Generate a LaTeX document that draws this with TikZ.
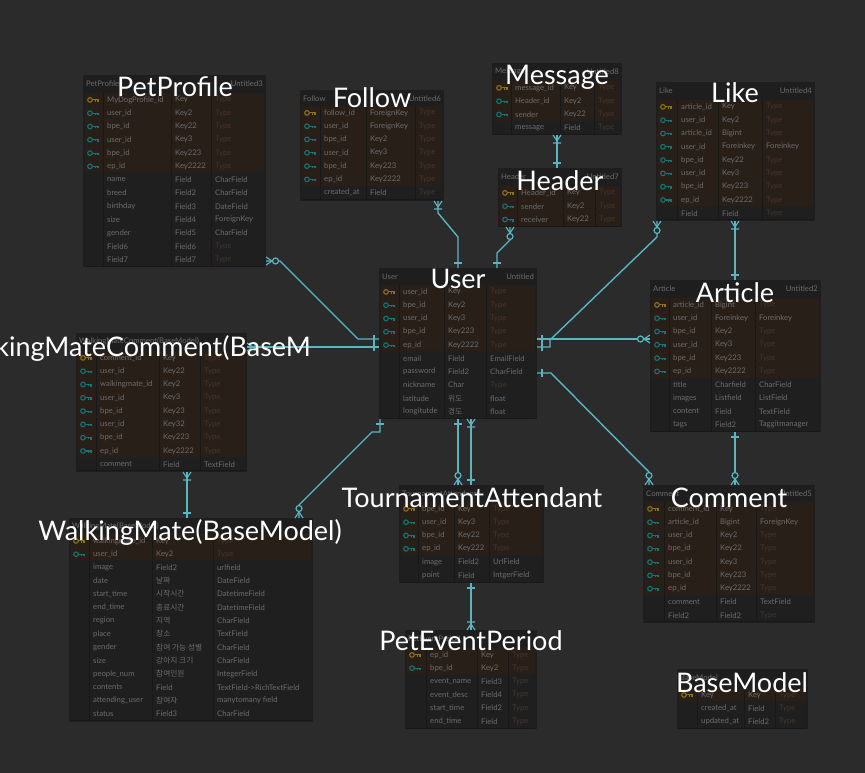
\documentclass[tikz,border=0pt]{standalone}
\usepackage{fontspec}
\setmainfont{Lato}
\newfontfamily\titlefont{Lato}
\newfontfamily\kr{Noto Sans CJK KR}
\usetikzlibrary{calc}

\definecolor{bgc}{RGB}{43,43,43}
\definecolor{tabbg}{RGB}{30,30,30}
\definecolor{keyrow}{RGB}{41,31,25}
\definecolor{plainrow}{RGB}{31,31,31}
\definecolor{gridc}{RGB}{24,24,24}
\definecolor{cellc}{RGB}{108,108,108}
\definecolor{typec}{RGB}{70,53,42}
\definecolor{pkc}{RGB}{140,114,22}
\definecolor{fkc}{RGB}{22,115,120}
\definecolor{connc}{RGB}{88,182,194}
\colorlet{rowpk}{keyrow}
\colorlet{rowfk}{keyrow}
\colorlet{rowno}{plainrow}
\colorlet{icopk}{pkc}
\colorlet{icofk}{fkc}
\colorlet{icono}{plainrow}

\newcommand{\tp}{\textcolor{typec}{Type}}

\tikzset{
  tbox/.style={fill=tabbg, draw=none, inner sep=0pt, outer sep=0pt},
  cell/.style={font=\fontsize{7.7}{8}\selectfont, text=cellc, inner sep=0pt, anchor=west},
  hdrtxt/.style={font=\fontsize{7.7}{8}\selectfont, text=cellc, inner sep=0pt},
  titlelbl/.style={font=\titlefont\fontsize{27}{29}\selectfont, text=white, inner sep=0pt, anchor=base},
  conn/.style={draw=connc, line width=1.4pt},
  endmark/.style={draw=connc, line width=1.2pt},
  gridl/.style={draw=gridc, line width=0.5pt},
}

% table frame: name, x0, x1, x2, x3, x4, ytop, yfirst, ybottom
\newcommand{\tbl}[9]{%
  \gdef\tn{#1}\gdef\xa{#2}\gdef\xb{#3}\gdef\xc{#4}\gdef\xd{#5}\gdef\xe{#6}\gdef\yt{#7}\gdef\yf{#8}%
  \node[tbox, anchor=north west, minimum width={#6-#2}, minimum height={#9-#7}] (#1) at (#2,#7) {};}
\newcommand{\hdr}[2]{%
  \node[hdrtxt, anchor=west] (\tn-hl) at (\xa+3,\yt+8.5) {#1};
  \node[hdrtxt, anchor=east] (\tn-hr) at (\xe-3,\yt+8.5) {#2};}
\newcommand{\rows}[1]{%
  \foreach \ic/\fa/\fb/\fc [count=\i from 0] in {#1}{%
    \pgfmathsetmacro\ya{\yf+\i*13.3}%
    \pgfmathsetmacro\yb{\ya+13.3}%
    \pgfmathsetmacro\ym{\ya+6.9}%
    \fill[fill=row\ic] (\xa+2,\ya-0.3) rectangle (\xe-2,\yb+0.3);
    \draw[gridl] (\xa+2,\yb) -- (\xe-2,\yb) (\xb,\ya) -- (\xb,\yb) (\xc,\ya) -- (\xc,\yb) (\xd,\ya) -- (\xd,\yb);
    \draw[draw=ico\ic, line width=1.1pt] (\xa+7,\ym) circle (2.3);
    \draw[draw=ico\ic, line width=1.1pt] (\xa+9.3,\ym) -- (\xa+15,\ym) -- (\xa+15,\ym+2) (\xa+12.8,\ym) -- (\xa+12.8,\ym+1.7);
    \node[cell] (\tn-\i-a) at (\xb+4,\ym) {\fa};
    \node[cell] (\tn-\i-b) at (\xc+4,\ym) {\fb};
    \node[cell] (\tn-\i-c) at (\xd+4,\ym) {\fc};
  }}

% ER end marks: point, direction (away from the table)
\newcommand{\mone}[2]{\draw[endmark, shift={#1}, rotate=#2] (5,-4) -- (5,4);}
\newcommand{\mmany}[2]{\draw[endmark, shift={#1}, rotate=#2] (0,-4) -- (6,0) -- (0,4) (8,-4) -- (8,4);}
\newcommand{\mzmany}[2]{\draw[endmark, shift={#1}, rotate=#2] (0,-4) -- (6,0) -- (0,4);
  \draw[endmark, fill=bgc, shift={#1}, rotate=#2] (9.5,0) circle (3);}

\begin{document}
\begin{tikzpicture}[x=1pt, y=-1pt]
\useasboundingbox (0,0) rectangle (865,773);
\fill[bgc] (0,0) rectangle (865,773);

% ---------- tables ----------
\tbl{petprofile}{83}{103}{171}{211}{266}{75}{93}{267}
\hdr{PetProfile}{Untitled3}
\rows{pk/MyDogProfile\_id/Key/\tp, fk/user\_id/Key2/\tp, fk/bpe\_id/Key22/\tp, fk/user\_id/Key3/\tp, fk/bpe\_id/Key223/\tp, fk/ep\_id/Key2222/\tp, no/name/Field/CharField, no/breed/Field2/CharField, no/birthday/Field3/DateField, no/size/Field4/ForeignKey, no/gender/Field5/CharField, no/Field6/Field6/\tp, no/Field7/Field7/\tp}

\tbl{follow}{300}{320}{366}{415}{444}{90}{106}{201}
\hdr{Follow}{Untitled6}
\rows{pk/follow\_id/ForeignKey/\tp, fk/user\_id/ForeignKey/\tp, fk/bpe\_id/Key2/\tp, fk/user\_id/Key3/\tp, fk/bpe\_id/Key223/\tp, fk/ep\_id/Key2222/\tp, no/created\_at/Field/\tp}

\tbl{message}{492}{511}{560}{594}{622}{63}{81}{135}
\hdr{Message}{Untitled8}
\rows{pk/message\_id/Key/\tp, fk/Header\_id/Key2/\tp, fk/sender/Key22/\tp, no/message/Field/\tp}

\tbl{header}{498}{517}{563}{595}{622}{168}{186}{227}
\hdr{Header}{Untitled7}
\rows{pk/Header\_id/Key/\tp, fk/sender/Key2/\tp, fk/receiver/Key22/\tp}

\tbl{like}{656}{677}{718}{762}{815}{82}{100}{221}
\hdr{Like}{Untitled4}
\rows{pk/article\_id/Key/\tp, fk/user\_id/Key2/\tp, fk/article\_id/Bigint/\tp, fk/user\_id/Foreinkey/Foreinkey, fk/bpe\_id/Key22/\tp, fk/user\_id/Key3/\tp, fk/bpe\_id/Key223/\tp, fk/ep\_id/Key2222/\tp, no/Field/Field/\tp}

\tbl{user}{379}{399}{444}{486}{537}{268}{285}{419}
\hdr{User}{Untitled}
\rows{pk/user\_id/Key/\tp, fk/bpe\_id/Key2/\tp, fk/user\_id/Key3/\tp, fk/bpe\_id/Key223/\tp, fk/ep\_id/Key2222/\tp, no/email/Field/EmailField, no/password/Field2/CharField, no/nickname/Char/\tp, no/latitude/{\kr 위도}/float, no/longitutde/{\kr 경도}/float}

\tbl{article}{650}{669}{711}{755}{821}{280}{298}{432}
\hdr{Article}{Untitled2}
\rows{pk/article\_id/Bigint/\tp, fk/user\_id/Foreinkey/Foreinkey, fk/bpe\_id/Key2/\tp, fk/user\_id/Key3/\tp, fk/bpe\_id/Key223/\tp, fk/ep\_id/Key2222/\tp, no/title/Charfield/CharField, no/images/Listfield/ListField, no/content/Field/TextField, no/tags/Field2/Taggitmanager}

\tbl{comment}{643}{664}{716}{756}{815}{485}{502}{623}
\hdr{Comment}{Untitled5}
\rows{pk/comment\_id/Key/\tp, fk/article\_id/Bigint/ForeignKey, fk/user\_id/Key2/\tp, fk/bpe\_id/Key22/\tp, fk/user\_id/Key3/\tp, fk/bpe\_id/Key223/\tp, fk/ep\_id/Key2222/\tp, no/comment/Field/TextField, no/Field2/Field2/\tp}

\tbl{ta}{399}{418}{454}{489}{544}{485}{502}{583}
\hdr{TournamentAttendant}{}
\rows{pk/bpe\_id/Key/\tp, fk/user\_id/Key3/\tp, fk/bpe\_id/Key22/\tp, fk/ep\_id/Key222/\tp, no/image/Field2/UrlField, no/point/Field/IntgerField}

\tbl{pep}{405}{426}{477}{508}{537}{630}{648}{729}
\hdr{PetEventPeriod}{}
\rows{pk/ep\_id/Key/\tp, fk/bpe\_id/Key2/\tp, no/event\_name/Field3/\tp, no/event\_desc/Field4/\tp, no/start\_time/Field2/\tp, no/end\_time/Field/\tp}

\tbl{basemodel}{677}{697}{744}{775}{808}{669}{688}{729}
\hdr{BaseModel}{}
\rows{pk/Key/Key/\tp, no/created\_at/Field/\tp, no/updated\_at/Field2/\tp}

\tbl{wmc}{76}{96}{159}{200}{247}{333}{351}{472}
\hdr{WalkingMateComment(BaseModel)}{}
\rows{pk/comment\_id/Key/\tp, fk/user\_id/Key22/\tp, fk/walkingmate\_id/Key2/\tp, fk/user\_id/Key3/\tp, fk/bpe\_id/Key23/\tp, fk/user\_id/Key32/\tp, fk/bpe\_id/Key223/\tp, fk/ep\_id/Key2222/\tp, no/comment/Field/TextField}

\tbl{wm}{69}{89}{152}{213}{313}{518}{534}{722}
\hdr{WalkingMate(BaseModel)}{}
\rows{pk/walkingmate\_id/Key/\tp, fk/user\_id/Key2/\tp, no/image/Field2/urlfield, no/date/{\kr 날짜}/DateField, no/start\_time/{\kr 시작시간}/DatetimeField, no/end\_time/{\kr 종료시간}/DatetimeField, no/region/{\kr 지역}/CharField, no/place/{\kr 장소}/TextField, no/gender/{\kr 참여 가능 성별}/CharField, no/size/{\kr 강아지 크기}/CharField, no/people\_num/{\kr 참여인원}/IntegerField, no/contents/Field/TextField->RichTextField, no/attending\_user/{\kr 참여자}/manytomany field, no/status/Field3/CharField}

% ---------- connectors ----------
\draw[conn] (438,0 |- follow.south) -- (438,213) -- (458,237) -- (458,0 |- user.north);
\draw[conn] (510,0 |- header.south) -- (510,240) -- (497,253) -- (497,0 |- user.north);
\draw[conn] (557,0 |- message.south) -- (557,0 |- header.north);
\draw[conn] (657,0 |- like.south) -- (657,237) -- (550,340) -- (550,347) -- (user.east |- 0,347);
\draw[conn] (735,0 |- like.south) -- (735,0 |- article.north);
\draw[conn] (article.west |- 0,339) -- (user.east |- 0,339);
\draw[conn] (649,0 |- comment.north) -- (649,472) -- (551,373) -- (user.east |- 0,373);
\draw[conn] (735,0 |- article.south) -- (735,0 |- comment.north);
\draw[conn] (458,0 |- user.south) -- (458,0 |- ta.north);
\draw[conn] (471,0 |- user.south) -- (471,0 |- ta.north);
\draw[conn] (471,0 |- ta.south) -- (471,0 |- pep.north);
\draw[conn] (wmc.east |- 0,347) -- (user.west |- 0,347);
\draw[conn] (petprofile.east |- 0,261) -- (280,261) -- (358,339) -- (user.west |- 0,339);
\draw[conn] (187,0 |- wmc.south) -- (187,0 |- wm.north);
\draw[conn] (299,0 |- wm.north) -- (299,505) -- (372,432) -- (380,432) -- (380,0 |- user.south);

% ---------- end marks ----------
\mmany{(438,0 |- follow.south)}{-90}
\mone{(458,0 |- user.north)}{90}
\mzmany{(510,0 |- header.south)}{-90}
\mone{(497,0 |- user.north)}{90}
\mmany{(557,0 |- message.south)}{-90}
\mone{(557,0 |- header.north)}{90}
\mzmany{(657,0 |- like.south)}{-90}
\mone{(user.east |- 0,347)}{0}
\mmany{(735,0 |- like.south)}{-90}
\mone{(735,0 |- article.north)}{90}
\mzmany{(article.west |- 0,339)}{180}
\mone{(user.east |- 0,339)}{0}
\mzmany{(649,0 |- comment.north)}{90}
\mone{(user.east |- 0,373)}{0}
\mone{(735,0 |- article.south)}{-90}
\mzmany{(735,0 |- comment.north)}{90}
\mone{(458,0 |- user.south)}{-90}
\mzmany{(458,0 |- ta.north)}{90}
\mmany{(471,0 |- user.south)}{-90}
\mone{(471,0 |- ta.north)}{90}
\mone{(471,0 |- ta.south)}{-90}
\mmany{(471,0 |- pep.north)}{90}
\mmany{(wmc.east |- 0,347)}{0}
\mone{(user.west |- 0,347)}{180}
\mzmany{(petprofile.east |- 0,261)}{0}
\mone{(user.west |- 0,339)}{180}
\mmany{(187,0 |- wmc.south)}{-90}
\mone{(187,0 |- wm.north)}{90}
\mzmany{(299,0 |- wm.north)}{90}
\mone{(380,0 |- user.south)}{-90}

% ---------- big titles ----------
\node[titlelbl] (t-petprofile) at (175,97) {PetProfile};
\node[titlelbl] (t-follow) at (372,108) {Follow};
\node[titlelbl] (t-message) at (557,85) {Message};
\node[titlelbl] (t-header) at (560,190) {Header};
\node[titlelbl] (t-like) at (735,103) {Like};
\node[titlelbl] (t-user) at (458,288) {User};
\node[titlelbl] (t-article) at (735,302) {Article};
\node[titlelbl] (t-comment) at (729,507) {Comment};
\node[titlelbl] (t-ta) at (472,507) {TournamentAttendant};
\node[titlelbl] (t-pep) at (471,650) {PetEventPeriod};
\node[titlelbl] (t-basemodel) at (742,692) {BaseModel};
\node[titlelbl] (t-wm) at (190,540) {WalkingMate(BaseModel)};
\node[titlelbl, anchor=base east] (t-wmc) at (311,356) {WalkingMateComment(BaseM};
\end{tikzpicture}
\end{document}
